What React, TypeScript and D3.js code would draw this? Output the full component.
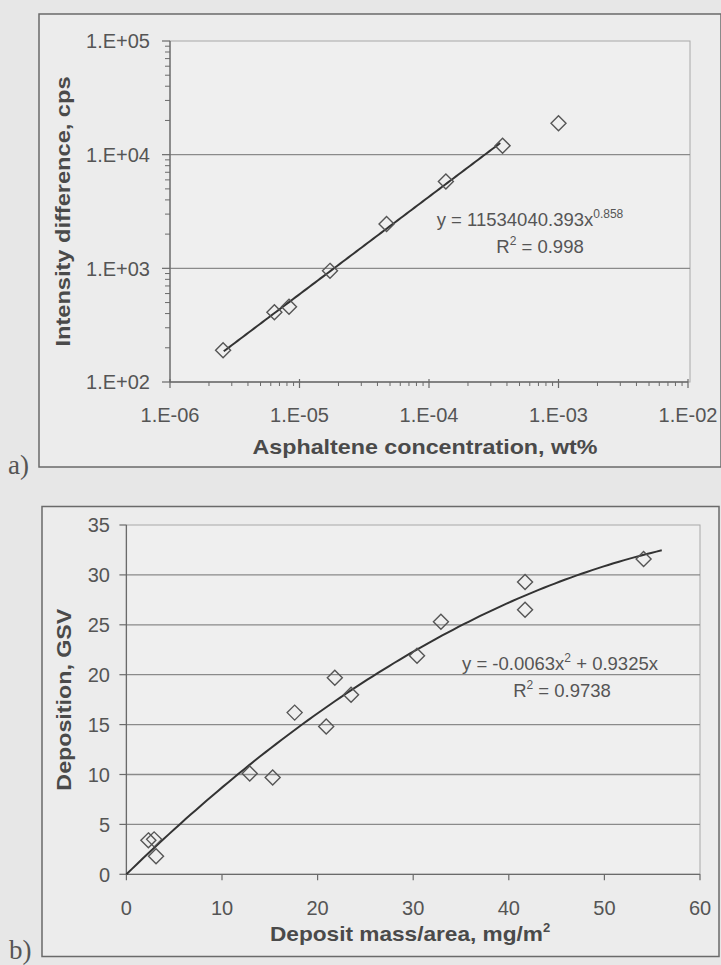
import React from "react";
import * as d3 from "d3";

// ---- Chart a) data ----
const concX = [2.57e-6, 6.4e-6, 8.3e-6, 1.72e-5, 4.7e-5, 1.35e-4, 3.7e-4, 1.0e-3];
const intensityY = [190, 410, 460, 950, 2450, 5800, 12000, 18900];
const aXTickVals = [1e-6, 1e-5, 1e-4, 1e-3, 1e-2];
const aXTickLabels = ["1.E-06", "1.E-05", "1.E-04", "1.E-03", "1.E-02"];
const aYTickVals = [1e2, 1e3, 1e4, 1e5];
const aYTickLabels = ["1.E+02", "1.E+03", "1.E+04", "1.E+05"];
const aFitCoef = 11534040.393;
const aFitExp = 0.858;
const aFitRange = [2.6e-6, 3.55e-4];

// ---- Chart b) data ----
const massX = [2.3, 2.9, 3.1, 12.9, 15.3, 17.6, 20.9, 21.8, 23.5, 30.4, 32.9, 41.7, 41.7, 54.1];
const depositionY = [3.4, 3.5, 1.8, 10.1, 9.7, 16.2, 14.8, 19.7, 18.0, 21.9, 25.3, 29.3, 26.5, 31.6];
const bXTicks = [0, 10, 20, 30, 40, 50, 60];
const bYTicks = [0, 5, 10, 15, 20, 25, 30, 35];
const bFitA = -0.0063;
const bFitB = 0.9325;
const bFitRange = [0, 56];

const FONT = "'Liberation Sans', Arial, sans-serif";
const TXT = "#555";
const GRID = "#8a8a8a";
const AXIS = "#6a6a6a";

function Diamond({ x, y }: { x: number; y: number }) {
  const r = 7.5;
  return (
    <path
      d={`M${x},${y - r}L${x + r},${y}L${x},${y + r}L${x - r},${y}Z`}
      fill="none"
      stroke="#555"
      strokeWidth={1.4}
    />
  );
}

function ChartA() {
  const L = 170, R = 688, T = 41, B = 382;
  const x = d3.scaleLog().domain([1e-6, 1e-2]).range([L, R]);
  const y = d3.scaleLog().domain([1e2, 1e5]).range([B, T]);
  const xMinor = x.ticks().filter((v) => Math.abs(Math.log10(v) - Math.round(Math.log10(v))) > 1e-6);
  const yMinor = y.ticks().filter((v) => Math.abs(Math.log10(v) - Math.round(Math.log10(v))) > 1e-6);
  const fitXs = d3.range(0, 101).map((i) =>
    Math.pow(10, Math.log10(aFitRange[0]) + (i / 100) * (Math.log10(aFitRange[1]) - Math.log10(aFitRange[0])))
  );
  const line = d3
    .line<number>()
    .x((d) => x(d))
    .y((d) => y(aFitCoef * Math.pow(d, aFitExp)));
  return (
    <g>
      <rect x={39} y={14} width={682} height={453} fill="#ececec" stroke={AXIS} strokeWidth={1.5} />
      <rect x={L} y={T} width={690 - L} height={B - T} fill="#efefef" stroke="#a8a8a8" strokeWidth={1} />
      {aYTickVals.slice(1, -1).map((v) => (
        <line key={v} x1={L} x2={690} y1={y(v)} y2={y(v)} stroke={GRID} strokeWidth={1.3} />
      ))}
      <line x1={L} x2={L} y1={T} y2={B} stroke={AXIS} strokeWidth={1.3} />
      <line x1={L} x2={R} y1={B} y2={B} stroke={AXIS} strokeWidth={1.3} />
      {aYTickVals.map((v) => (
        <line key={"ym" + v} x1={L - 8} x2={L} y1={y(v)} y2={y(v)} stroke={AXIS} strokeWidth={1.2} />
      ))}
      {yMinor.map((v) => (
        <line key={"yn" + v} x1={L - 5} x2={L} y1={y(v)} y2={y(v)} stroke={AXIS} strokeWidth={1} />
      ))}
      {aXTickVals.map((v) => (
        <line key={"xm" + v} x1={x(v)} x2={x(v)} y1={B - 3} y2={B + 6} stroke={AXIS} strokeWidth={1.2} />
      ))}
      {xMinor.map((v) => (
        <line key={"xn" + v} x1={x(v)} x2={x(v)} y1={B} y2={B + 4} stroke={AXIS} strokeWidth={1} />
      ))}
      {aYTickVals.map((v, i) => (
        <text key={"yl" + v} x={150} y={y(v)} dy="0.36em" textAnchor="end" fontSize={20} fill={TXT} fontFamily={FONT}>
          {aYTickLabels[i]}
        </text>
      ))}
      {aXTickVals.map((v, i) => (
        <text key={"xl" + v} x={x(v)} y={422} textAnchor="middle" fontSize={20} fill={TXT} fontFamily={FONT}>
          {aXTickLabels[i]}
        </text>
      ))}
      <path d={line(fitXs) || ""} fill="none" stroke="#333" strokeWidth={2} />
      {concX.map((cx, i) => (
        <Diamond key={i} x={x(cx)} y={y(intensityY[i])} />
      ))}
      <text x={530} y={226} textAnchor="middle" fontSize={18.5} fill={TXT} fontFamily={FONT}>
        y = 11534040.393x<tspan dy={-8} fontSize={12}>0.858</tspan>
      </text>
      <text x={540} y={253} textAnchor="middle" fontSize={18.5} fill={TXT} fontFamily={FONT}>
        R<tspan dy={-8} fontSize={12}>2</tspan>
        <tspan dy={8}> = 0.998</tspan>
      </text>
      <text
        x={425}
        y={454}
        textAnchor="middle"
        fontSize={21}
        fontWeight="bold"
        fill="#4a4a4a"
        fontFamily={FONT}
        textLength={345}
        lengthAdjust="spacingAndGlyphs"
      >
        Asphaltene concentration, wt%
      </text>
      <text
        transform={`translate(70,${(T + B) / 2}) rotate(-90)`}
        textAnchor="middle"
        fontSize={21}
        fontWeight="bold"
        fill="#4a4a4a"
        fontFamily={FONT}
        textLength={270}
        lengthAdjust="spacingAndGlyphs"
      >
        Intensity difference, cps
      </text>
      <text x={8} y={474} fontSize={27} fill={TXT} fontFamily="'Liberation Serif', 'Times New Roman', serif">
        a)
      </text>
    </g>
  );
}

function ChartB() {
  const L = 126.4, R = 700, T = 525, B = 874.3;
  const x = d3.scaleLinear().domain([0, 60]).range([L, R]);
  const y = d3.scaleLinear().domain([0, 35]).range([B, T]);
  const fitXs = d3.range(0, 101).map((i) => bFitRange[0] + (i / 100) * (bFitRange[1] - bFitRange[0]));
  const line = d3
    .line<number>()
    .x((d) => x(d))
    .y((d) => y(bFitA * d * d + bFitB * d));
  return (
    <g>
      <rect x={42} y={506.5} width={677} height={450} fill="#ececec" stroke={AXIS} strokeWidth={1.5} />
      <rect x={L} y={T} width={R - L} height={B - T} fill="#efefef" stroke="#a8a8a8" strokeWidth={1} />
      {bYTicks.slice(1, -1).map((v) => (
        <line key={v} x1={L} x2={R} y1={y(v)} y2={y(v)} stroke={GRID} strokeWidth={1.3} />
      ))}
      <line x1={L} x2={L} y1={T} y2={B} stroke={AXIS} strokeWidth={1.3} />
      <line x1={L} x2={R} y1={B} y2={B} stroke={AXIS} strokeWidth={1.3} />
      {bYTicks.map((v) => (
        <line key={"yt" + v} x1={L - 7} x2={L} y1={y(v)} y2={y(v)} stroke={AXIS} strokeWidth={1.2} />
      ))}
      {bXTicks.map((v) => (
        <line key={"xt" + v} x1={x(v)} x2={x(v)} y1={B} y2={B + 6} stroke={AXIS} strokeWidth={1.2} />
      ))}
      {bYTicks.map((v) => (
        <text key={"yl" + v} x={110} y={y(v)} dy="0.36em" textAnchor="end" fontSize={20} fill={TXT} fontFamily={FONT}>
          {v}
        </text>
      ))}
      {bXTicks.map((v) => (
        <text key={"xl" + v} x={x(v)} y={915} textAnchor="middle" fontSize={20} fill={TXT} fontFamily={FONT}>
          {v}
        </text>
      ))}
      <path d={line(fitXs) || ""} fill="none" stroke="#333" strokeWidth={2} />
      {massX.map((mx, i) => (
        <Diamond key={i} x={x(mx)} y={y(depositionY[i])} />
      ))}
      <text x={560} y={670} textAnchor="middle" fontSize={18.5} fill={TXT} fontFamily={FONT}>
        y = -0.0063x<tspan dy={-8} fontSize={12}>2</tspan>
        <tspan dy={8}> + 0.9325x</tspan>
      </text>
      <text x={562} y={697} textAnchor="middle" fontSize={18.5} fill={TXT} fontFamily={FONT}>
        R<tspan dy={-8} fontSize={12}>2</tspan>
        <tspan dy={8}> = 0.9738</tspan>
      </text>
      <text x={270} y={941} fontSize={21} fontWeight="bold" fill="#4a4a4a" fontFamily={FONT}>
        <tspan textLength={273} lengthAdjust="spacingAndGlyphs">Deposit mass/area, mg/m</tspan>
        <tspan dy={-9} fontSize={13}>2</tspan>
      </text>
      <text
        transform={`translate(71,${(T + B) / 2}) rotate(-90)`}
        textAnchor="middle"
        fontSize={21}
        fontWeight="bold"
        fill="#4a4a4a"
        fontFamily={FONT}
        textLength={182}
        lengthAdjust="spacingAndGlyphs"
      >
        Deposition, GSV
      </text>
      <text x={9} y={959} fontSize={27} fill={TXT} fontFamily="'Liberation Serif', 'Times New Roman', serif">
        b)
      </text>
    </g>
  );
}

export default function App() {
  return (
    <svg
      width={721}
      height={965}
      style={{ position: "absolute", left: 0, top: 0, display: "block" }}
      xmlns="http://www.w3.org/2000/svg"
    >
      <rect x={0} y={0} width={721} height={965} fill="#e7e7e7" />
      <ChartA />
      <ChartB />
    </svg>
  );
}
